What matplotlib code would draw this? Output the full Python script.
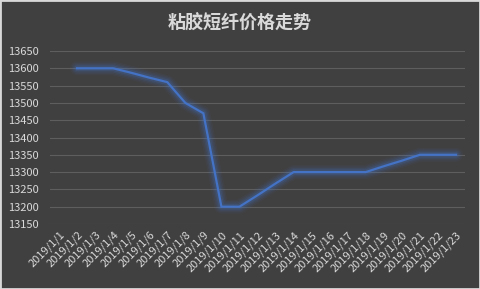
import matplotlib.pyplot as plt

plt.rcParams['font.family'] = ['Noto Sans CJK SC', 'DejaVu Sans']

# 日期和价格
dates = ['2019/1/%d' % d for d in range(1, 24)]
price = [None, 13600, 13600, 13600, 13587, 13573, 13560, 13500, 13470, 13200,
         13200, 13233, 13267, 13300, 13300, 13300, 13300, 13300, 13317, 13333,
         13350, 13350, 13350]
yticks = [13150, 13200, 13250, 13300, 13350, 13400, 13450, 13500, 13550, 13600, 13650]

bg = '#404040'
txt = '#d9d9d9'
blue = '#4472C4'

fig = plt.figure(figsize=(4.8, 2.89), dpi=100, facecolor=bg)
ax = fig.add_axes([50 / 480, 1 - 224 / 289, 415 / 480, 173 / 289])
ax.set_facecolor(bg)

xs = [i for i, v in enumerate(price) if v is not None]
ys = [v for v in price if v is not None]

# 光晕效果
for lw, a in [(10, 0.06), (8, 0.08), (6, 0.12), (4, 0.18)]:
    ax.plot(xs, ys, color=blue, lw=lw, alpha=a, solid_capstyle='round', solid_joinstyle='round')
ax.plot(xs, ys, color=blue, lw=1.6, solid_joinstyle='miter')

ax.set_xlim(-0.5, len(dates) - 0.5)
ax.set_ylim(13150, 13650)
ax.set_yticks(yticks)
ax.set_yticklabels([str(v) for v in yticks])
ax.set_xticks(range(len(dates)))
ax.set_xticklabels(dates, rotation=45, ha='right', rotation_mode='anchor')
ax.grid(axis='y', color='#5e5e5e', lw=0.8)
ax.set_axisbelow(True)
for s in ax.spines.values():
    s.set_visible(False)
ax.tick_params(axis='y', length=0, pad=8, labelsize=8, colors=txt)
ax.tick_params(axis='x', length=0, pad=4, labelsize=8, colors=txt)

fig.text(0.5, 1 - 23 / 289, '粘胶短纤价格走势', ha='center', va='center',
         fontsize=13, fontweight='bold', color=txt)

# 外边框
fig.add_artist(plt.Rectangle((0, 0), 1, 1, transform=fig.transFigure, fill=False,
                             edgecolor='#d9d9d9', lw=2))

fig.savefig('out.png', dpi=100, facecolor=bg)
